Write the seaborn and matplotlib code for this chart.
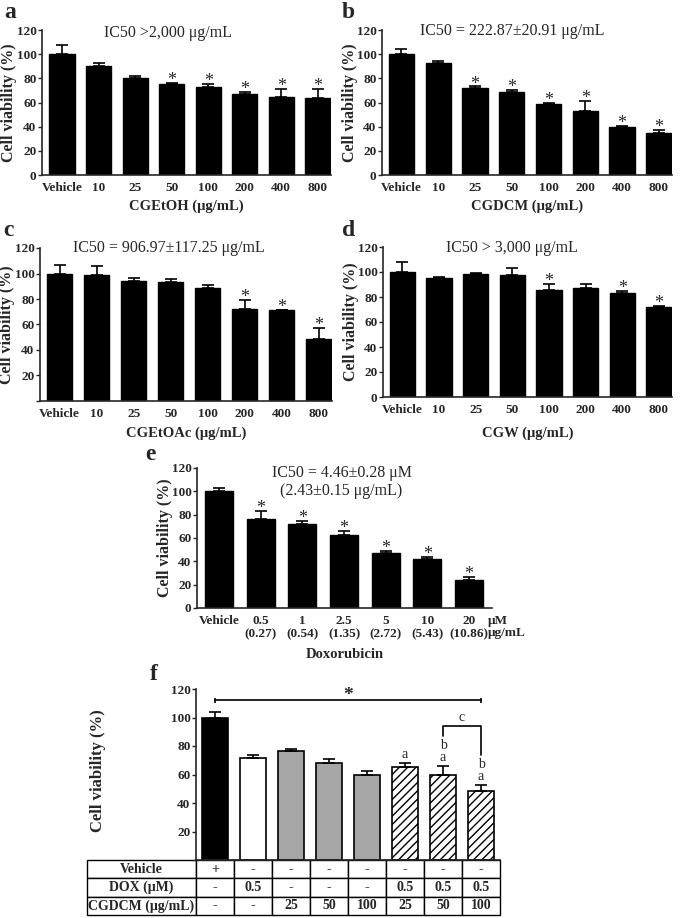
import numpy as np
import pandas as pd
import matplotlib
matplotlib.use("Agg")
import matplotlib.pyplot as plt
import seaborn as sns

# ---------------- data ----------------
conc_labels = ["Vehicle", "10", "25", "50", "100", "200", "400", "800"]

a_vals = [100, 90, 80.5, 75, 73, 67, 64.5, 64]
a_errs = [8, 3, 1.5, 1.3, 2.3, 1.7, 7, 7.3]
a_sig = [0, 0, 0, 1, 1, 1, 1, 1]

b_vals = [100, 93, 72, 69, 58.5, 53, 39.5, 35]
b_errs = [4, 1, 1.3, 1.5, 1, 8, 1, 2.5]
b_sig = [0, 0, 1, 1, 1, 1, 1, 1]

c_vals = [100, 99, 94, 93, 89, 72, 71, 49]
c_errs = [7, 6.5, 2.4, 2.6, 2, 7, 0.5, 8]
c_sig = [0, 0, 0, 0, 0, 1, 1, 1]

d_vals = [100, 95, 98.7, 98, 85.5, 87.2, 83, 72]
d_errs = [8, 0.8, 0.5, 5.5, 4.7, 3.5, 2, 1]
d_sig = [0, 0, 0, 0, 1, 0, 1, 1]

e_labels = ["Vehicle", "0.5\n(0.27)", "1\n(0.54)", "2.5\n(1.35)", "5\n(2.72)",
            "10\n(5.43)", "20\n(10.86)"]
e_vals = [100, 76.5, 72, 63, 47.5, 42, 24]
e_errs = [2.5, 7, 2.3, 3, 1.7, 1.7, 3]
e_sig = [0, 1, 1, 1, 1, 1, 1]

f_groups = ["Vehicle", "DOX", "CG25", "CG50", "CG100", "DOX+CG25", "DOX+CG50", "DOX+CG100"]
f_vals = [100, 71.5, 76.5, 67.8, 59.3, 65.5, 60, 48.5]
f_errs = [4, 2.5, 1.6, 2.8, 3, 2.8, 6, 4]
f_colors = ["black", "white", "#a6a6a6", "#a6a6a6", "#a6a6a6", "white", "white", "white"]
f_hatches = ["", "", "", "", "", "////", "////", "////"]
f_letters = ["", "", "", "", "", "a", "b\na", "b\na"]
f_star_y = 112
f_bracket_y = 94
f_bracket_legs = [87, 74]

f_row_labels = ["Vehicle", "DOX (\u03bcM)", "CGDCM (\u03bcg/mL)"]
f_vehicle = ["+", "-", "-", "-", "-", "-", "-", "-"]
f_dox = ["-", "0.5", "-", "-", "-", "0.5", "0.5", "0.5"]
f_cgdcm = ["-", "-", "25", "50", "100", "25", "50", "100"]

# ---------------- style ----------------
sns.set_style("ticks")
plt.rcParams["font.family"] = ["Liberation Serif", "DejaVu Serif"]
plt.rcParams["hatch.linewidth"] = 1.0
plt.rcParams["axes.linewidth"] = 1.2

W, H = 685, 918
fig = plt.figure(figsize=(W / 100, H / 100), dpi=100)


def add_ax(left, right, top, bottom):
    return fig.add_axes([left / W, 1 - bottom / H, (right - left) / W, (bottom - top) / H])


TICK_FS = 9.5
YLAB_FS = 11.5
XLAB_FS = 10.5
TITLE_FS = 11.5
LET_FS = 17
STAR_FS = 13


def bar_panel(ax, labels, vals, errs, sig, xlabel, title, title_xy, xlim,
              width=0.69, show_zero=True, ylab_x=-0.085, xlab_y=-0.16):
    df = pd.DataFrame({"g": labels, "v": vals})
    sns.barplot(data=df, x="g", y="v", order=labels, color="black",
                edgecolor="black", linewidth=1, width=width, errorbar=None,
                saturation=1, ax=ax)
    x = np.arange(len(labels))
    ax.errorbar(x, vals, yerr=[np.zeros(len(vals)), errs], fmt="none",
                ecolor="black", elinewidth=1.2, capsize=4, capthick=1.2)
    for xi, v, e, s in zip(x, vals, errs, sig):
        if s:
            ax.annotate("*", xy=(xi, v + e), xytext=(0, -1.5), textcoords="offset points",
                        ha="center", va="baseline", fontsize=STAR_FS)
    ax.set_ylim(0, 120)
    ax.set_xlim(*xlim)
    ax.set_yticks(np.arange(0, 121, 20))
    if not show_zero:
        ax.set_yticklabels([""] + [str(t) for t in range(20, 121, 20)])
    ax.tick_params(axis="y", length=3, width=1, labelsize=TICK_FS, pad=1)
    ax.tick_params(axis="x", length=0, labelsize=TICK_FS, pad=5)
    for lab in ax.get_xticklabels() + ax.get_yticklabels():
        lab.set_fontweight("bold")
    sns.despine(ax=ax)
    ax.set_ylabel("Cell viability (%)", fontsize=YLAB_FS, fontweight="bold")
    ax.yaxis.set_label_coords(ylab_x, 0.5)
    ax.set_xlabel(xlabel, fontsize=XLAB_FS, fontweight="bold")
    ax.xaxis.set_label_coords(0.5, xlab_y)
    ax.text(title_xy[0], title_xy[1], title, transform=ax.transAxes, ha="center",
            va="center", fontsize=TITLE_FS, linespacing=1.1)


# ---- a ----
ax_a = add_ax(42, 331, 30, 175)
bar_panel(ax_a, conc_labels, a_vals, a_errs, a_sig, "CGEtOH (\u03bcg/mL)",
          "IC50 >2,000 \u03bcg/mL", (0.436, 0.98), (-0.55, 7.36), xlab_y=-0.17)
# ---- b ----
ax_b = add_ax(382, 672, 30, 175)
bar_panel(ax_b, conc_labels, b_vals, b_errs, b_sig, "CGDCM (\u03bcg/mL)",
          "IC50 = 222.87\u00b120.91 \u03bcg/mL", (0.45, 0.99), (-0.53, 7.36),
          ylab_x=-0.083, xlab_y=-0.17)
# ---- c ----
ax_c = add_ax(40, 332, 248, 401)
bar_panel(ax_c, conc_labels, c_vals, c_errs, c_sig, "CGEtOAc (\u03bcg/mL)",
          "IC50 = 906.97\u00b1117.25 \u03bcg/mL", (0.44, 1.0), (-0.53, 7.36),
          show_zero=False, ylab_x=-0.086, xlab_y=-0.17)
# ---- d ----
ax_d = add_ax(383, 672, 247, 397)
bar_panel(ax_d, conc_labels, d_vals, d_errs, d_sig, "CGW (\u03bcg/mL)",
          "IC50 > 3,000 \u03bcg/mL", (0.446, 0.99), (-0.53, 7.36),
          ylab_x=-0.083, xlab_y=-0.2)
# ---- e ----
ax_e = add_ax(197, 492, 468, 608)
bar_panel(ax_e, e_labels, e_vals, e_errs, e_sig, "Doxorubicin",
          "IC50 = 4.46\u00b10.28 \u03bcM\n(2.43\u00b10.15 \u03bcg/mL)", (0.49, 0.9),
          (-0.53, 6.55), width=0.67, ylab_x=-0.081, xlab_y=-0.286)
ax_e.annotate("\u03bcM\n\u03bcg/mL", xy=(1.0, 0), xycoords="axes fraction",
              xytext=(-3, -5), textcoords="offset points", ha="left", va="top",
              fontsize=TICK_FS, fontweight="bold", linespacing=1.0)

# ---- f ----
ax_f = add_ax(196, 500, 689, 860)
df_f = pd.DataFrame({"g": f_groups, "v": f_vals})
sns.barplot(data=df_f, x="g", y="v", order=f_groups, color="black", edgecolor="black",
            linewidth=1.2, width=0.66, errorbar=None, saturation=1, ax=ax_f)
for p, col, h in zip(ax_f.patches, f_colors, f_hatches):
    p.set_facecolor(col)
    p.set_hatch(h)
xf = np.arange(len(f_groups))
ax_f.errorbar(xf, f_vals, yerr=[np.zeros(len(f_vals)), f_errs], fmt="none",
              ecolor="black", elinewidth=1.2, capsize=4, capthick=1.2)
for xi, v, e, t in zip(xf, f_vals, f_errs, f_letters):
    if t:
        ax_f.annotate(t, xy=(xi, v + e), xytext=(0, 3.5), textcoords="offset points",
                      ha="center", va="baseline", fontsize=10, linespacing=0.95)
# significance bar
ax_f.errorbar([xf[0], xf[-1]], [f_star_y, f_star_y], yerr=1.6, fmt="none",
              ecolor="black", elinewidth=1.2)
ax_f.plot([xf[0], xf[-1]], [f_star_y, f_star_y], color="black", lw=1.2)
ax_f.text((xf[0] + xf[-1]) / 2, f_star_y, "*", ha="center", va="baseline",
          fontsize=STAR_FS + 1, fontweight="bold")
# bracket c
ax_f.plot([xf[-2], xf[-2], xf[-1], xf[-1]],
          [f_bracket_legs[0], f_bracket_y, f_bracket_y, f_bracket_legs[1]],
          color="black", lw=1.2)
ax_f.text((xf[-2] + xf[-1]) / 2, f_bracket_y + 1.5, "c", ha="center", va="bottom",
          fontsize=10)
ax_f.set_ylim(0, 120)
ax_f.set_xlim(-0.5, 7.5)
ax_f.set_yticks(np.arange(0, 121, 20))
ax_f.set_yticklabels([""] + [str(t) for t in range(20, 121, 20)])
ax_f.tick_params(axis="y", length=3, width=1, labelsize=TICK_FS, pad=1)
ax_f.tick_params(axis="x", length=0, labelbottom=False)
for lab in ax_f.get_yticklabels():
    lab.set_fontweight("bold")
ax_f.set_xlabel("")
sns.despine(ax=ax_f)
ax_f.set_ylabel("Cell viability (%)", fontsize=YLAB_FS + 0.5, fontweight="bold")
ax_f.yaxis.set_label_coords(-0.295, 0.52)

cell_text = [[lab] + row for lab, row in zip(f_row_labels, [f_vehicle, f_dox, f_cgdcm])]
first_w = 109
col_w = 38
tot = first_w + col_w * len(f_groups)
tbl = ax_f.table(cellText=cell_text, cellLoc="center",
                 colWidths=[first_w / tot] + [col_w / tot] * len(f_groups),
                 bbox=[-(first_w / 304), -(55 / 171), tot / 304, 55 / 171])
tbl.auto_set_font_size(False)
for (r, c), cell in tbl.get_celld().items():
    cell.set_linewidth(1.0)
    cell.set_edgecolor("black")
    cell.get_text().set_fontsize(10)
    cell.get_text().set_fontweight("bold")
    if c == 0:
        cell._loc = "right"
        cell.PAD = 0.015

# panel letters
for letter, (px, py) in zip("abcdef", [(4, 2), (342, 2), (3, 220), (342, 220),
                                       (145, 444), (150, 664)]):
    fig.text(px / W, 1 - py / H, letter, fontsize=LET_FS, fontweight="bold",
             ha="left", va="top")

fig.savefig("out.png", dpi=100)
